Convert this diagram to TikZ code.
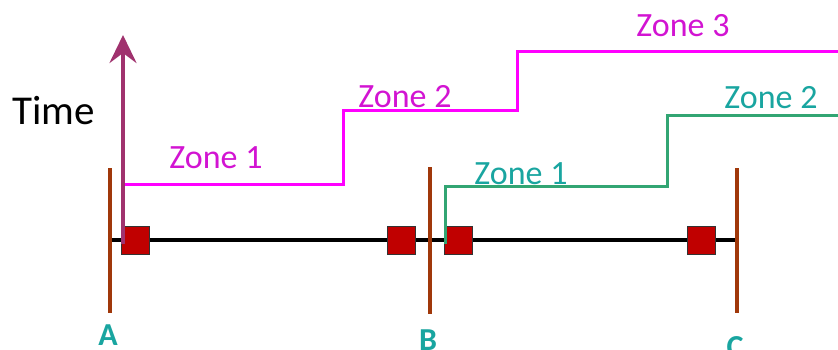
\documentclass[tikz,border=0pt]{standalone}
\usepackage{fontspec}
\setmainfont{Carlito}
\usetikzlibrary{arrows.meta}
\definecolor{brn}{RGB}{160,56,10}
\definecolor{sqred}{RGB}{192,0,0}
\definecolor{arrp}{RGB}{160,50,110}
\definecolor{mag}{RGB}{255,0,255}
\definecolor{magtxt}{RGB}{210,20,210}
\definecolor{grn}{RGB}{50,165,115}
\definecolor{tealtxt}{RGB}{25,165,160}
\tikzset{
  post/.style={draw=brn, line width=4pt},
  track/.style={draw=black, line width=4pt},
  box/.style={draw=black!80, line width=0.8pt, fill=sqred, minimum size=28pt, inner sep=0pt},
  magline/.style={draw=mag, line width=3pt},
  grnline/.style={draw=grn, line width=3pt},
  zlab/.style={font=\fontsize{34}{36}\selectfont, anchor=base, inner sep=0pt},
  plab/.style={font=\fontsize{32}{34}\selectfont\bfseries, text=tealtxt, anchor=base, inner sep=0pt}
}
\begin{document}
\begin{tikzpicture}[x=1pt,y=-1pt]
\useasboundingbox (0,0) rectangle (838,349);
% posts
\coordinate (A1) at (110,168); \coordinate (A2) at (110,313);
\coordinate (B1) at (430,167); \coordinate (B2) at (430,314);
\coordinate (C1) at (737,168); \coordinate (C2) at (737,313);
\coordinate (tl) at (110,240); \coordinate (tr) at (737,240);
\draw[track] (tl) -- (tr);
\draw[post] (A1) -- (A2);
\draw[post] (B1) -- (B2);
\draw[post] (C1) -- (C2);
% squares
\node[box] (s1) at (135,240) {};
\node[box] (s2) at (401,240) {};
\node[box] (s3) at (458,240) {};
\node[box] (s4) at (701,240) {};
% magenta steps
\coordinate (m0) at (123,184);
\coordinate (mend) at (838,51);
\draw[magline] (m0) -- (343,184) -- (343,110) -- (517,110) -- (517,51) -- (mend);
% green steps
\coordinate (g0) at (445,244);
\coordinate (gend) at (838,115);
\draw[grnline] (g0) -- (445,186) -- (667,186) -- (667,115) -- (gend);
% time arrow
\coordinate (t0) at (123,244);
\coordinate (t1) at (123,35);
\draw[draw=arrp, line width=4pt, -{Stealth[length=28pt,width=27pt,inset=10pt]}] (t0) -- (t1);
% labels
\node[anchor=base west, inner sep=0pt, font=\fontsize{41}{44}\selectfont] (time) at (12,124) {Time};
\node[zlab, text=magtxt] (mz1) at (216,168) {Zone 1};
\node[zlab, text=magtxt] (mz2) at (405,107) {Zone 2};
\node[zlab, text=magtxt] (mz3) at (683,36) {Zone 3};
\node[zlab, text=tealtxt] (gz1) at (521,184) {Zone 1};
\node[zlab, text=tealtxt] (gz2) at (771,108) {Zone 2};
\node[plab] (la) at (108,345) {A};
\node[plab] (lb) at (428,350) {B};
\node[plab] (lc) at (735,357) {C};
\end{tikzpicture}
\end{document}
